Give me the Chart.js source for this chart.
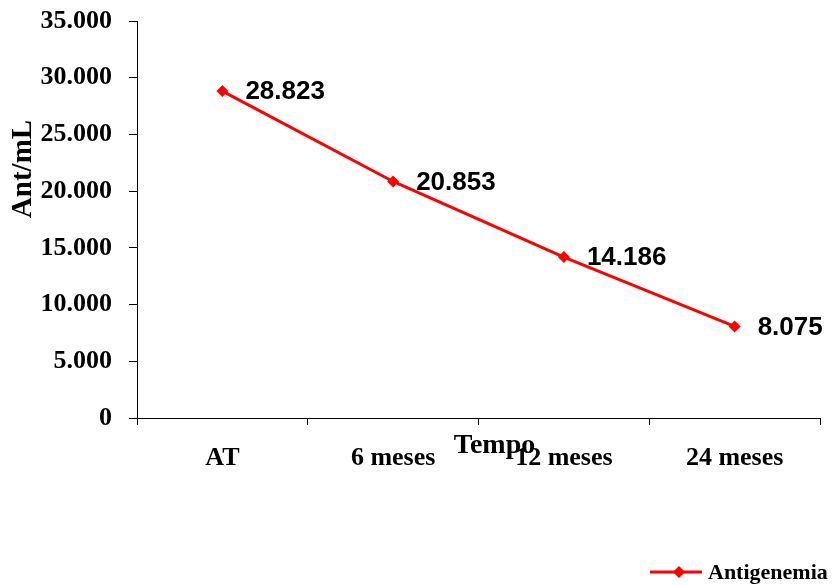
<!DOCTYPE html>
<html>
<head>
<meta charset="utf-8">
<script src="https://cdn.jsdelivr.net/npm/chart.js@4/dist/chart.umd.min.js"></script>
<style>
  html, body { margin: 0; padding: 0; background: #fff; }
  #wrap { width: 834px; height: 585px; }
</style>
</head>
<body>
<div id="wrap"><canvas id="c" width="834" height="585"></canvas></div>
<script>
// Antigenemia over follow-up time
const categories = ['AT', '6 meses', '12 meses', '24 meses'];
const antigenemia = [28823, 20853, 14186, 8075];
const seriesLabel = 'Antigenemia';
const xTitle = 'Tempo';
const yTitle = 'Ant/mL';
const yMin = 0, yMax = 35000, yStep = 5000;

const RED = '#ff0000';
const SERIF = '"Liberation Serif", "Times New Roman", serif';
const SANS = '"Liberation Sans", Arial, sans-serif';

// thousands separated with a dot (pt-BR style)
function fmt(n) {
  return String(Math.round(n)).replace(/\B(?=(\d{3})+(?!\d))/g, '.');
}

// value labels to the right of each point
const valueLabels = {
  id: 'valueLabels',
  afterDatasetsDraw(chart) {
    const ctx = chart.ctx;
    const meta = chart.getDatasetMeta(0);
    ctx.save();
    ctx.font = 'bold 26px ' + SANS;
    ctx.fillStyle = '#000';
    ctx.textAlign = 'left';
    ctx.textBaseline = 'middle';
    meta.data.forEach((pt, i) => {
      ctx.fillText(fmt(chart.data.datasets[0].data[i]), pt.x + 23, pt.y + 1);
    });
    ctx.restore();
  }
};

// axis titles and the legend entry
const decorations = {
  id: 'decorations',
  afterDraw(chart) {
    const ctx = chart.ctx;
    const area = chart.chartArea;
    ctx.save();
    ctx.fillStyle = '#000';

    // y axis title
    ctx.save();
    ctx.translate(24, area.top + 148);
    ctx.rotate(-Math.PI / 2);
    ctx.font = 'bold 29px ' + SERIF;
    ctx.textAlign = 'center';
    ctx.textBaseline = 'middle';
    ctx.fillText(yTitle, 0, 0);
    ctx.restore();

    // x axis title
    ctx.font = 'bold 28px ' + SERIF;
    ctx.textAlign = 'center';
    ctx.textBaseline = 'alphabetic';
    ctx.fillText(xTitle, (area.left + area.right) / 2 + 16, area.bottom + 35);

    // legend: line with diamond marker, then label
    const ly = 572;
    const lx = 650;
    ctx.strokeStyle = RED;
    ctx.lineWidth = 3;
    ctx.beginPath();
    ctx.moveTo(lx, ly);
    ctx.lineTo(lx + 52, ly);
    ctx.stroke();
    const cx = lx + 29, r = 6;
    ctx.fillStyle = RED;
    ctx.beginPath();
    ctx.moveTo(cx - r, ly);
    ctx.lineTo(cx, ly - r);
    ctx.lineTo(cx + r, ly);
    ctx.lineTo(cx, ly + r);
    ctx.closePath();
    ctx.fill();

    ctx.fillStyle = '#000';
    ctx.font = 'bold 22px ' + SERIF;
    ctx.textAlign = 'left';
    ctx.textBaseline = 'middle';
    ctx.fillText(chart.data.datasets[0].label, lx + 58, ly + 1);
    ctx.restore();
  }
};

new Chart(document.getElementById('c'), {
  type: 'line',
  data: {
    labels: categories,
    datasets: [{
      label: seriesLabel,
      data: antigenemia,
      borderColor: RED,
      backgroundColor: RED,
      borderWidth: 3,
      pointStyle: 'rectRot',
      pointRadius: 6,
      pointBorderWidth: 0,
      pointBackgroundColor: RED,
      tension: 0,
      fill: false
    }]
  },
  options: {
    responsive: false,
    animation: false,
    devicePixelRatio: 1,
    layout: { padding: { left: 0, right: 14, top: 21, bottom: 0 } },
    plugins: {
      legend: { display: false },
      tooltip: { enabled: false }
    },
    scales: {
      x: {
        type: 'category',
        offset: true,
        afterFit(scale) { scale.height = 167; },
        grid: {
          offset: true,
          drawOnChartArea: false,
          drawTicks: true,
          tickLength: 7,
          color: '#000',
          lineWidth: 1
        },
        border: { display: true, color: '#000', width: 1 },
        ticks: {
          color: '#000',
          padding: 18,
          maxRotation: 0,
          autoSkip: false,
          font: { family: SERIF, size: 26, weight: 'bold' }
        }
      },
      y: {
        min: yMin,
        max: yMax,
        afterFit(scale) {
          scale.width = 137;
          scale.paddingTop = 0;
          scale.paddingBottom = 0;
        },
        grid: {
          drawOnChartArea: false,
          drawTicks: true,
          tickLength: 8,
          color: '#000',
          lineWidth: 1
        },
        border: { display: true, color: '#000', width: 1 },
        ticks: {
          stepSize: yStep,
          color: '#000',
          padding: 17,
          font: { family: SERIF, size: 26, weight: 'bold' },
          callback: (v) => fmt(v)
        }
      }
    }
  },
  plugins: [valueLabels, decorations]
});
</script>
</body>
</html>
